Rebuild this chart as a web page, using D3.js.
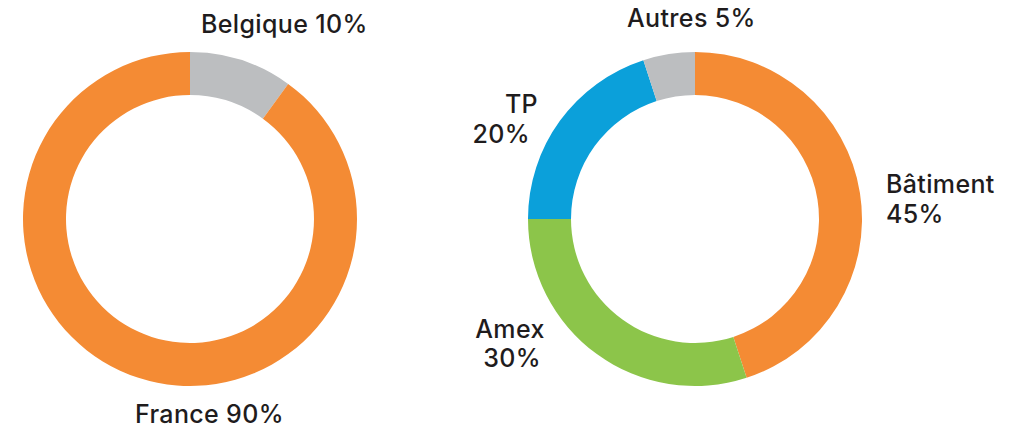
<!DOCTYPE html>
<html>
<head>
<meta charset="utf-8">
<script src="https://cdn.jsdelivr.net/npm/d3@7"></script>
<style>
  html, body { margin: 0; padding: 0; background: #fff; }
  svg text { font-family: Inter, "Noto Sans", sans-serif; font-weight: 500; font-size: 25px; letter-spacing: 0.35px; fill: #1f1c1d; }
</style>
</head>
<body>
<svg width="1024" height="432"></svg>
<script>
// pays
const paysLabels = ["Belgique", "France"];
const paysValues = [10, 90];
const paysColors = ["#bcbec0", "#f48b34"];

// activités
const activiteLabels = ["Bâtiment", "Amex", "TP", "Autres"];
const activiteValues = [45, 30, 20, 5];
const activiteColors = ["#f48b34", "#8cc54a", "#0ba0da", "#bcbec0"];

const svg = d3.select("svg");
const outerR = 167, innerR = 124;

const pie = d3.pie().sort(null).value(d => d.value);
const arc = d3.arc().innerRadius(innerR).outerRadius(outerR);

function donut(cx, cy, labels, values, colors) {
    const data = labels.map((l, i) => ({ label: l, value: values[i], color: colors[i] }));
    const g = svg.append("g").attr("transform", `translate(${cx}, ${cy})`);
    g.selectAll("path")
        .data(pie(data))
        .enter().append("path")
        .attr("d", arc)
        .attr("fill", d => d.data.color);
}

donut(190, 219, paysLabels, paysValues, paysColors);
donut(695, 219, activiteLabels, activiteValues, activiteColors);

// étiquettes (positions)
const labelLines = [
    { text: paysLabels[0] + " " + paysValues[0] + "%", x: 201, y: 33, anchor: "start" },
    { text: paysLabels[1] + " " + paysValues[1] + "%", x: 135, y: 423, anchor: "start" },
    { text: activiteLabels[3] + " " + activiteValues[3] + "%", x: 627, y: 27, anchor: "start" },
    { text: activiteLabels[2], x: 538, y: 113, anchor: "end" },
    { text: activiteValues[2] + "%", x: 530, y: 143, anchor: "end" },
    { text: activiteLabels[0], x: 886, y: 193, anchor: "start" },
    { text: activiteValues[0] + "%", x: 886, y: 223, anchor: "start" },
    { text: activiteLabels[1], x: 510, y: 338, anchor: "middle" },
    { text: activiteValues[1] + "%", x: 512, y: 367, anchor: "middle" }
];

svg.selectAll("text.lbl")
    .data(labelLines)
    .enter().append("text")
    .attr("class", "lbl")
    .attr("x", d => d.x)
    .attr("y", d => d.y)
    .attr("text-anchor", d => d.anchor)
    .text(d => d.text);
</script>
</body>
</html>
